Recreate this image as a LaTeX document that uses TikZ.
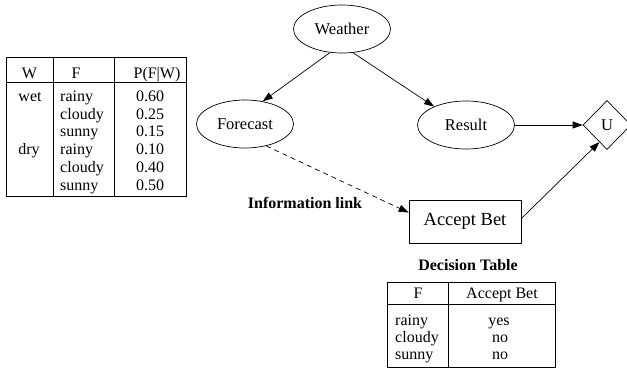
\documentclass[tikz,border=0pt]{standalone}
\usepackage{fontspec}
\setmainfont{Liberation Serif}
\usetikzlibrary{shapes.geometric,arrows.meta}
\tikzset{
  txt/.style={font=\fontsize{16}{18}\selectfont, inner sep=0pt, anchor=base},
  txtw/.style={txt, anchor=base west},
  lbl/.style={font=\fontsize{16}{18}\selectfont\bfseries, inner sep=0pt, anchor=base},
  ell/.style={draw, ellipse, line width=0.7pt, minimum width=97pt, minimum height=48pt, inner sep=0pt, font=\fontsize{16.5}{18}\selectfont},
  util/.style={draw, diamond, line width=0.7pt, minimum width=48pt, minimum height=49pt, inner sep=0pt, font=\fontsize{16.5}{18}\selectfont},
  dec/.style={draw, rectangle, line width=0.7pt, minimum width=112pt, minimum height=43pt, inner sep=0pt, font=\fontsize{18.5}{20}\selectfont},
  arr/.style={-{Triangle[length=10pt,width=7pt]}, line width=0.7pt},
  tline/.style={line width=0.7pt},
}
\begin{document}
\begin{tikzpicture}[x=1pt,y=-1pt]
\useasboundingbox (0,0) rectangle (627,368);

% network
\node[ell] (weather) at (342,29) {Weather};
\node[ell] (forecast) at (245,124) {Forecast};
\node[ell] (result) at (466,125) {Result};
\node[util] (U) at (607,125) {U};
\node[dec] (bet) at (465,221.5) {Accept Bet};

\draw[arr] (weather.243) -- (forecast.52);
\draw[arr] (weather.295) -- (result.150);
\draw[arr] (result.east) -- (U.west);
\draw[arr] (bet.3.5) -- (U.246);
\draw[arr, dash pattern=on 5pt off 4pt] (forecast.314) -- (bet.171.5);

\node[lbl] (infolink) at (305,208) {Information link};
\node[lbl] (dectitle) at (468,270) {Decision Table};

% left table
\draw[tline] (6,57) rectangle (186,196);
\draw[tline] (6,82) -- (186,82);
\draw[tline] (53,57) -- (53,196);
\draw[tline] (114,57) -- (114,196);
\node[txt] (hW) at (29.5,78) {W};
\node[txt] (hF) at (76,78) {F};
\node[txt] (hP) at (157,78) {P(F|W)};
\node[txt] (w1) at (30,101.5) {wet};
\node[txt] (w2) at (29,154.6) {dry};
\node[txtw] (f1) at (60,101.5) {rainy};
\node[txtw] (f2) at (60,119.2) {cloudy};
\node[txtw] (f3) at (60,136.9) {sunny};
\node[txtw] (f4) at (60,154.6) {rainy};
\node[txtw] (f5) at (60,172.3) {cloudy};
\node[txtw] (f6) at (60,190) {sunny};
\node[txt] (p1) at (150,101.5) {0.60};
\node[txt] (p2) at (150,119.2) {0.25};
\node[txt] (p3) at (150,136.9) {0.15};
\node[txt] (p4) at (150,154.6) {0.10};
\node[txt] (p5) at (150,172.3) {0.40};
\node[txt] (p6) at (150,190) {0.50};

% right table
\draw[tline] (387,282) rectangle (555,367);
\draw[tline] (387,304) -- (555,304);
\draw[tline] (448,282) -- (448,367);
\node[txt] (rhF) at (418,298.5) {F};
\node[txt] (rhA) at (502,298.5) {Accept Bet};
\node[txtw] (r1) at (395,325) {rainy};
\node[txtw] (r2) at (395,342) {cloudy};
\node[txtw] (r3) at (395,359) {sunny};
\node[txt] (a1) at (499,325) {yes};
\node[txt] (a2) at (500,342) {no};
\node[txt] (a3) at (500,359) {no};
\end{tikzpicture}
\end{document}
